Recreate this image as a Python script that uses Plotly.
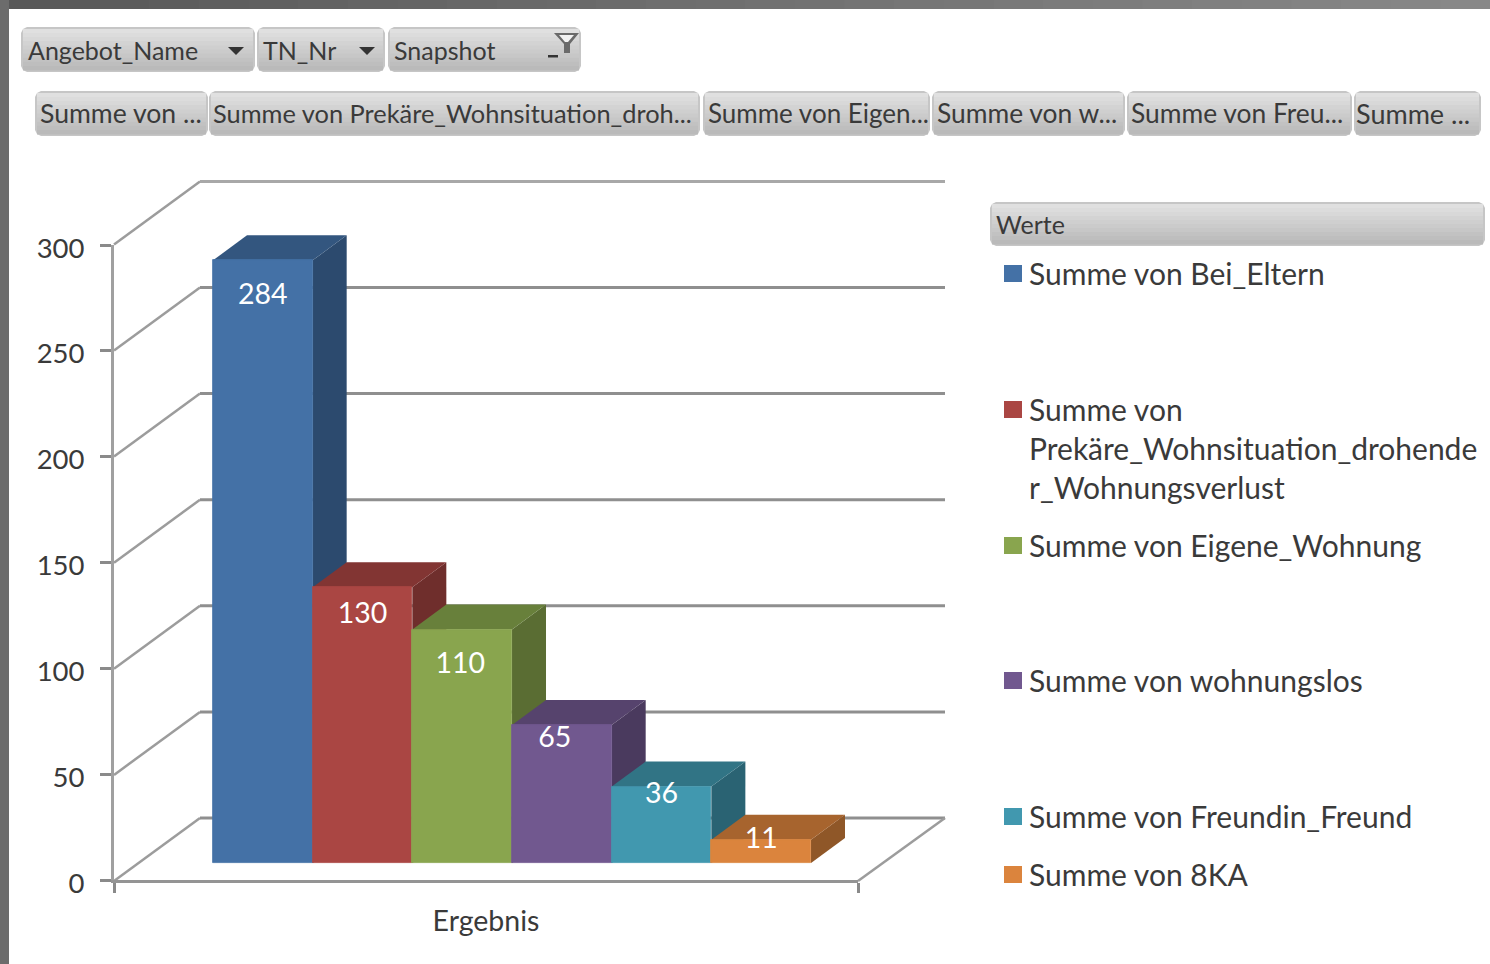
import plotly.graph_objects as go

# ---- data ----
SERIES = ["Bei_Eltern", "Prekäre_Wohnsituation_drohender_Wohnungsverlust", "Eigene_Wohnung",
          "wohnungslos", "Freundin_Freund", "8KA"]
VALUES = [284, 130, 110, 65, 36, 11]
Y_TICKS = [0, 50, 100, 150, 200, 250, 300]
CATEGORY = "Ergebnis"
FILTER_LABELS = ["Angebot_Name", "TN_Nr", "Snapshot"]
VALUE_LABELS = ["Summe von ...", "Summe von Prekäre_Wohnsituation_droh...", "Summe von Eigen...",
                "Summe von w...", "Summe von Freu...", "Summe ..."]
LEGEND_TITLE = "Werte"
LEGEND_LABELS = ["Summe von Bei_Eltern",
                 "Summe von<br>Prekäre_Wohnsituation_drohende<br>r_Wohnungsverlust",
                 "Summe von Eigene_Wohnung", "Summe von wohnungslos",
                 "Summe von Freundin_Freund", "Summe von 8KA"]

# ---- styles ----
FRONT = ["#4471A6", "#AA4643", "#89A54E", "#71588F", "#4198AF", "#DB843D"]
SIDE = ["#2C4A6E", "#6F2E2C", "#5A6D33", "#4A3A5E", "#2A6373", "#8F5728"]
TOP = ["#33567F", "#823533", "#68803B", "#56436D", "#317485", "#A7642E"]
FONT = "Lato"
TXT = "#3a3a3a"
GRID = "#8f8f8f"

# ---- geometry ----
W, H = 1490, 964
BAR_PX, BAR_X0, BASE_PY, PX_PER_VAL = 99.67, 213, 863, 2.122
LABEL_DROP = [17.4, 13.4, 16.9, 6.9, 4.4, 0.4]
LABEL_SHIFT = [0, 0, -0.02, -0.07, 0, 0]
FILTER_BOXES = [(21, 255, 26), (257, 385, 261), (388, 581, 392)]
VALUE_BOXES = [(35, 208, 38, 26.6), (209, 700, 211, 25.4), (703, 930, 706, 26),
               (932, 1125, 935, 26.4), (1127, 1352, 1129, 26.4), (1354, 1481, 1354, 27)]
LEGEND_Y = [274, 410, 546, 681, 817, 875]


def xu(px):
    return (px - BAR_X0) / BAR_PX - 0.5


def yu(py):
    return (BASE_PY - py) / PX_PER_VAL


X_RANGE = [xu(0), xu(W)]
Y_RANGE = [yu(H), yu(0)]
DX, DY = 34 / BAR_PX, 25 / PX_PER_VAL
FRONT_X, BACK_X, RIGHT_X, FLOOR_RX = xu(114), xu(200), xu(945), xu(858)
FRONT_Y, BACK_Y = yu(881), yu(818)

fig = go.Figure()
# walls
for t in Y_TICKS:
    c = "#a8a8a8" if t == 300 else GRID
    fig.add_trace(go.Scatter(x=[FRONT_X, BACK_X], y=[FRONT_Y + t, BACK_Y + t], mode="lines",
                             line=dict(color="#9c9c9c", width=2.5), hoverinfo="skip"))
    fig.add_trace(go.Scatter(x=[BACK_X, RIGHT_X], y=[BACK_Y + t, BACK_Y + t], mode="lines",
                             line=dict(color=c, width=3), hoverinfo="skip"))
fig.add_trace(go.Scatter(x=[FLOOR_RX, RIGHT_X], y=[FRONT_Y, BACK_Y], mode="lines",
                         line=dict(color="#9c9c9c", width=2.5), hoverinfo="skip"))

# bar sides and tops
for i, v in enumerate(VALUES):
    l, r = i - 0.5, i + 0.5
    fig.add_trace(go.Scatter(x=[r, r + DX, r + DX, r, r], y=[0, DY, v + DY, v, 0], fill="toself", mode="lines",
                             fillcolor=SIDE[i], line=dict(width=0, color=SIDE[i]), hoverinfo="skip"))
    fig.add_trace(go.Scatter(x=[l, l + DX, r + DX, r, l], y=[v, v + DY, v + DY, v, v], fill="toself", mode="lines",
                             fillcolor=TOP[i], line=dict(width=0, color=TOP[i]), hoverinfo="skip"))

# bar fronts
fig.add_trace(go.Bar(x=list(range(len(VALUES))), y=VALUES, width=1,
                     marker=dict(color=FRONT, line=dict(width=0.8, color=FRONT)),
                     xaxis="x2", yaxis="y2", customdata=SERIES, hovertemplate="%{customdata}: %{y}<extra></extra>"))
fig.add_trace(go.Scatter(x=[i + s for i, s in enumerate(LABEL_SHIFT)],
                         y=[v - d for v, d in zip(VALUES, LABEL_DROP)],
                         text=[str(v) for v in VALUES], mode="text",
                         textfont=dict(family=FONT, size=28.5, color="white"), textposition="middle center",
                         xaxis="x2", yaxis="y2", hoverinfo="skip"))
# carrier for the visible axes
fig.add_trace(go.Scatter(x=[0, 1], y=[0, 300], mode="lines", line=dict(width=0), xaxis="x3", yaxis="y3",
                         hoverinfo="skip"))

# ---- page furniture ----
shapes, annos = [], []


def text(x, y, s, size, color=TXT):
    annos.append(dict(xref="paper", yref="paper", x=x / W, y=1 - y / H, text=s, showarrow=False,
                      xanchor="left", yanchor="middle", align="left",
                      font=dict(family=FONT, size=size, color=color)))


def nx(px):
    return px / W


def ny(py):
    return 1 - py / H


def poly(points, color):
    path = "M " + " L ".join(f"{nx(a):.5f},{ny(b):.5f}" for a, b in points) + " Z"
    shapes.append(dict(type="path", xref="paper", yref="paper", path=path, layer="above", fillcolor=color,
                       line=dict(width=0)))


def box(x0, y0, x1, y1, color):
    shapes.append(dict(type="rect", xref="paper", yref="paper", x0=nx(x0), x1=nx(x1), y0=ny(y0), y1=ny(y1),
                       layer="above", fillcolor=color, line=dict(width=0)))


def button(x0, y0, x1, y1):
    r = 6
    pts = [(x0 + r, y0), (x1 - r, y0), (x1 - 2, y0 + 2), (x1, y0 + r), (x1, y1 - r), (x1 - 2, y1 - 2), (x1 - r, y1),
           (x0 + r, y1), (x0 + 2, y1 - 2), (x0, y1 - r), (x0, y0 + r), (x0 + 2, y0 + 2)]
    poly(pts, "#c6c6c6")
    n = 10
    top, bot = (224, 224, 224), (186, 186, 186)
    h = (y1 - y0 - 4) / n
    for k in range(n):
        f = k / (n - 1)
        col = "rgb(%d,%d,%d)" % tuple(round(a + (b - a) * f) for a, b in zip(top, bot))
        box(x0 + 2, y0 + 2 + k * h, x1 - 2, y0 + 2 + (k + 1) * h + 0.5, col)


# window edge
STEPS = 30
for k in range(STEPS):
    f = k / (STEPS - 1)
    v = round(88 + (136 - 88) * f)
    box(W * k / STEPS, 0, W * (k + 1) / STEPS + 1, 9, f"rgb({v},{v},{v})")
box(0, 0, 9, H, "#6c6c6c")

for label, (a, b, tx) in zip(FILTER_LABELS, FILTER_BOXES):
    button(a, 27, b, 72)
    text(tx, 50, label, 25)
for label, (a, b, tx, size) in zip(VALUE_LABELS, VALUE_BOXES):
    button(a, 91, b, 136)
    text(tx, 113, label, size)
button(990, 202, 1485, 246)
text(994, 224, LEGEND_TITLE, 25)

for cx in (236, 367):
    poly([(cx - 8, 47), (cx + 8, 47), (cx, 55)], "#333333")
box(548, 55, 558, 57.5, "#333333")
poly([(554, 33), (579, 33), (570, 44), (570, 53), (564, 53), (564, 44)], "#6a6a6a")
poly([(559, 35), (574, 35), (568, 42), (565, 42)], "#f2f2f2")

for label, py, col in zip(LEGEND_LABELS, LEGEND_Y, FRONT):
    box(1004, py - 9, 1022, py + 8, col)
    main_y = py if "<br>" not in label else py + 39
    text(1027, main_y - 1, label, 30)

axis_off = dict(visible=False, fixedrange=True, automargin=False)
fig.update_layout(
    template="none",
    width=W, height=H, margin=dict(l=0, r=0, t=0, b=0, pad=0, autoexpand=False),
    paper_bgcolor="white", plot_bgcolor="rgba(0,0,0,0)",
    showlegend=False, shapes=shapes, annotations=annos, bargap=0,
    xaxis=dict(domain=[0, 1], range=X_RANGE, **axis_off),
    yaxis=dict(domain=[0, 1], range=Y_RANGE, **axis_off),
    xaxis2=dict(overlaying="x", range=X_RANGE, anchor="y2", **axis_off),
    yaxis2=dict(overlaying="y", range=Y_RANGE, anchor="x2", **axis_off),
    xaxis3=dict(domain=[114 / W, 858 / W], range=[0, 1], anchor="y3", tickvals=[0, 1], ticktext=["", ""],
                automargin=False, ticks="outside", ticklen=10, tickwidth=3, tickcolor="#8a8a8a", showline=True,
                linewidth=3, linecolor="#949494", showgrid=False, zeroline=False,
                title=dict(text=CATEGORY, standoff=17, font=dict(family=FONT, size=28.5, color=TXT))),
    yaxis3=dict(domain=[(H - 880) / H, (H - 245) / H], range=[0, 300], anchor="x3", tickvals=Y_TICKS,
                automargin=False, ticks="outside", ticklen=11, tickwidth=3, tickcolor="#8a8a8a", showline=True,
                linewidth=3, linecolor="#a0a0a0", showgrid=False, zeroline=False, ticklabelstandoff=10,
                ticklabelshift=3, tickfont=dict(family=FONT, size=27.5, color=TXT)),
)
fig.write_html("out.html", config=dict(displayModeBar=False),
               post_script="document.body.style.margin='0';")
